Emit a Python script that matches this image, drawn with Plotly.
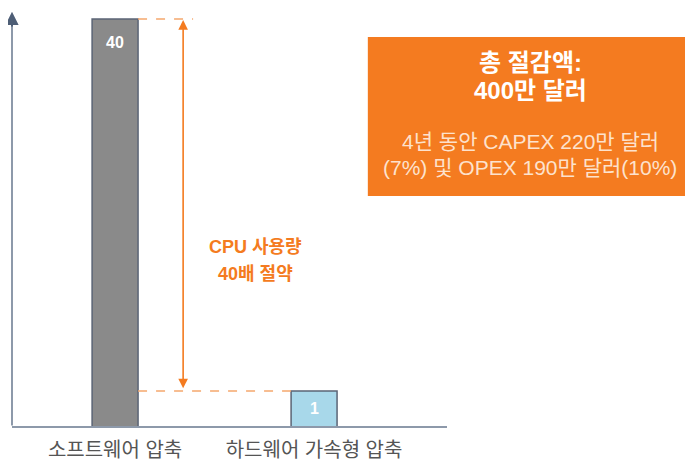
import math
import plotly.graph_objects as go

categories = ["소프트웨어 압축", "하드웨어 가속형 압축"]
cpu_usage = [40, 1]
bar_labels = ["40", "1"]
bar_colors = ["#8a8a8a", "#a8d8ea"]
box_title_lines = ["총 절감액:", "400만 달러"]
box_text_lines = ["4년 동안 CAPEX 220만 달러", "(7%) 및 OPEX 190만 달러(10%)"]
savings_lines = ["CPU 사용량", "40배 절약"]

ORANGE = "#f47b20"
AXIS = "#8d99aa"
FONT = "Liberation Sans, Noto Sans CJK KR, sans-serif"

xs = list(range(len(categories)))
bw = 0.231

fig = go.Figure()
fig.add_trace(go.Bar(
    x=xs, y=cpu_usage, width=bw,
    marker=dict(color=bar_colors, line=dict(color="#5b6475", width=1.5)),
    hoverinfo="skip", showlegend=False,
))

# dashed reference lines
fig.add_trace(go.Scatter(
    x=[xs[0] + bw / 2, 0.392], y=[cpu_usage[0], cpu_usage[0]],
    mode="lines", line=dict(color="#f5a86e", width=1.5, dash="dash"),
    hoverinfo="skip", showlegend=False,
))
fig.add_trace(go.Scatter(
    x=[xs[0] + bw / 2, xs[1] - bw / 2], y=[cpu_usage[1], cpu_usage[1]],
    mode="lines", line=dict(color="#f5a86e", width=1.5, dash="dash"),
    hoverinfo="skip", showlegend=False,
))

annotations = []
# bar value labels
shifts = [-24, -17]
for i, (v, lab) in enumerate(zip(cpu_usage, bar_labels)):
    annotations.append(dict(x=xs[i], y=math.log10(v), xref="x", yref="y",
                            text="<b>%s</b>" % lab, showarrow=False, yshift=shifts[i],
                            xanchor="center", yanchor="middle",
                            font=dict(color="white", size=16, family=FONT)))

# double arrow
arrow_x = 0.342
annotations.append(dict(x=arrow_x, y=math.log10(cpu_usage[0]) - 0.005, ax=arrow_x,
                        ay=math.log10(cpu_usage[1]) + 0.005,
                        xref="x", yref="y", axref="x", ayref="y", text="",
                        showarrow=True, arrowhead=2, arrowside="end+start",
                        arrowsize=1.2, arrowwidth=1.6, arrowcolor=ORANGE))

# y-axis arrow
annotations.append(dict(x=0, y=1.0, xref="paper", yref="paper", ax=0, ay=415,
                        axref="pixel", ayref="pixel", text="", showarrow=True,
                        arrowhead=2, arrowsize=1.3, arrowwidth=2, arrowcolor=AXIS))
annotations.append(dict(x=0, y=1.0, xref="paper", yref="paper", ax=0, ay=16,
                        text="", showarrow=True,
                        arrowhead=2, arrowsize=1.3, arrowwidth=2, arrowcolor="#4e5e76"))

# savings text
for txt, yy in zip(savings_lines, [0.432, 0.367]):
    annotations.append(dict(x=0.704, y=yy, xref="x", yref="paper",
                            text="<b>%s</b>" % txt, showarrow=False,
                            xanchor="center", yanchor="middle",
                            font=dict(color=ORANGE, size=18, family=FONT)))

# box texts
for txt, yy in zip(box_title_lines, [0.879, 0.81]):
    annotations.append(dict(x=1.191, y=yy, xref="paper", yref="paper",
                            text="<b>%s</b>" % txt, showarrow=False,
                            xanchor="center", yanchor="middle",
                            font=dict(color="white", size=24, family=FONT)))
for txt, yy in zip(box_text_lines, [0.686, 0.6256]):
    annotations.append(dict(x=1.191, y=yy, xref="paper", yref="paper",
                            text=txt, showarrow=False,
                            xanchor="center", yanchor="middle",
                            font=dict(color="#fde2cd", size=21, family=FONT)))

shapes = [dict(type="rect", xref="paper", yref="paper", x0=0.818, x1=1.57,
               y0=0.5556, y1=0.9396, fillcolor=ORANGE, line=dict(width=0), layer="below")]

fig.update_layout(
    width=685, height=456,
    margin=dict(l=4, r=246, t=4, b=38, autoexpand=False),
    paper_bgcolor="white", plot_bgcolor="white",
    font=dict(family=FONT),
    showlegend=False,
    annotations=annotations,
    shapes=shapes,
    xaxis=dict(range=[-0.518, 1.668], tickvals=xs, ticktext=categories,
               showgrid=False, zeroline=False, showline=True, linecolor=AXIS,
               linewidth=2, ticks="outside", ticklen=5, tickcolor="rgba(0,0,0,0)",
               tickfont=dict(size=20, color="#555555", family=FONT), automargin=False),
    yaxis=dict(type="log", range=[-0.1507, 1.632], showticklabels=False,
               showgrid=False, zeroline=False, showline=False, ticks="", automargin=False),
)

fig.write_html("out.html")
